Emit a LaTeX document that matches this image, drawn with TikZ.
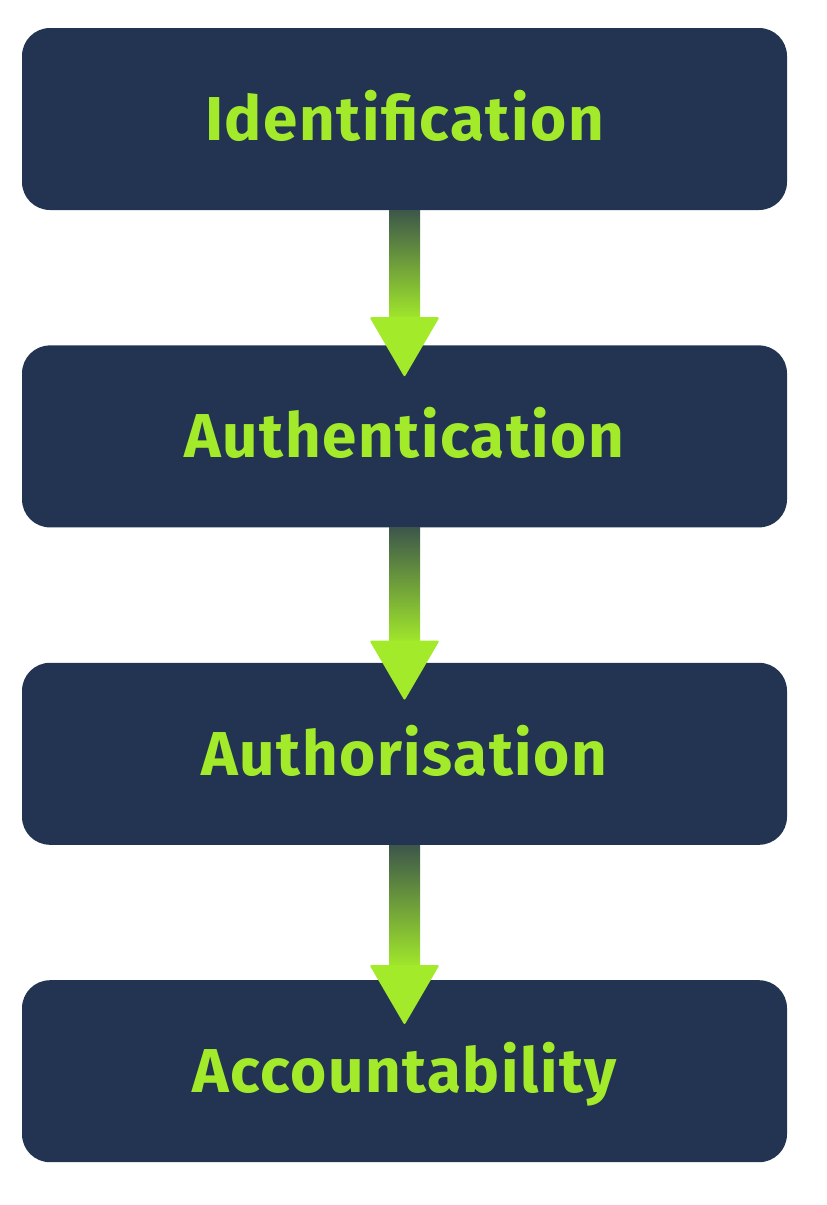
\documentclass[tikz,border=0pt]{standalone}
\usepackage{fontspec}
\setmainfont{Fira Sans}
\newfontfamily\stagefont[LetterSpace=2.5]{Fira Sans}
\usetikzlibrary{positioning,calc}
\definecolor{boxblue}{HTML}{223452}
\definecolor{limegreen}{HTML}{A3EA2A}
\definecolor{darkstem}{HTML}{3D574A}

\begin{document}
\begin{tikzpicture}[x=1pt,y=1pt,node distance=135pt,
	stage/.style={fill=boxblue, rounded corners=28pt, minimum width=765pt, minimum height=182pt,
		text=limegreen, text height=43pt, text depth=0pt, font=\stagefont\fontsize{62}{72}\selectfont\bfseries}]
	\useasboundingbox (0,0) rectangle (827,-1205);
	% the four stages
	\node[stage] (ident) at (404.5,-119) {Identification};
	\node[stage, below=of ident] (authn) {Authentication};
	\node[stage, below=of authn] (authz) {Authorisation};
	\node[stage, below=of authz] (account) {Accountability};
	
	% shaded arrows between them
	\foreach \from/\to/\len in {ident/authn/107, authn/authz/113, authz/account/120} {
		\shade[top color=darkstem, bottom color=limegreen]
		($(\from.south)+(-15.5,0)$) rectangle ($(\from.south)+(15.5,-\len-4)$);
		\fill[limegreen, rounded corners=2pt] ($(\from.south)+(-35,-\len)$) -- ($(\from.south)+(35,-\len)$)
		-- ($(\from.south)+(0,-\len-60)$) -- cycle;
	}
\end{tikzpicture}
\end{document}
